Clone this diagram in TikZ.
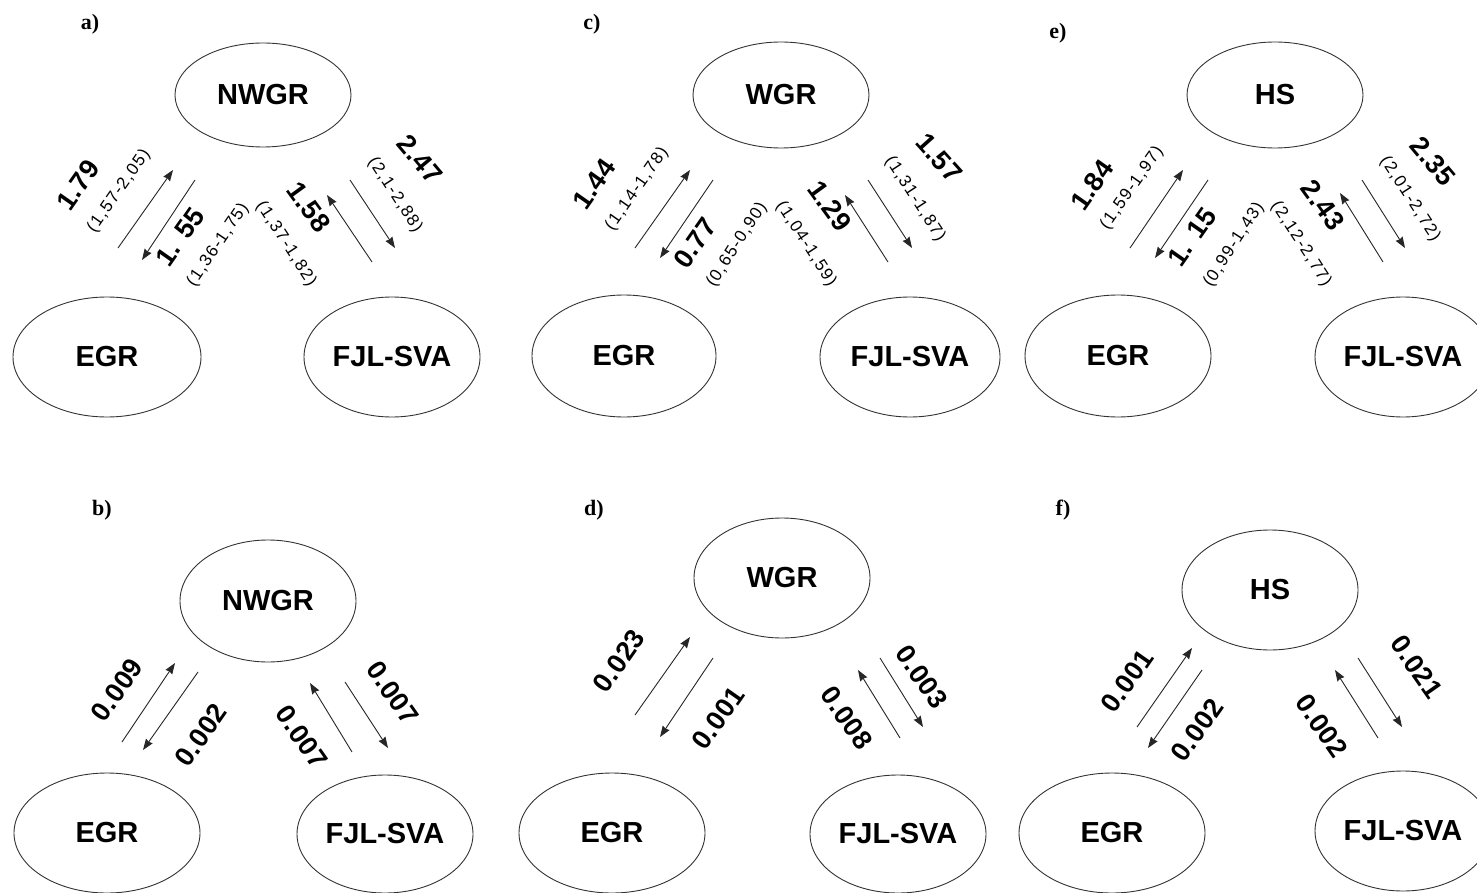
\documentclass[tikz,border=0pt]{standalone}
\usepackage{fontspec}
\usetikzlibrary{shapes.geometric,arrows.meta}
\newfontfamily\labf{Liberation Sans}
\newfontfamily\numf[LetterSpace=2]{Liberation Sans}
\newfontfamily\cif[LetterSpace=8]{Liberation Sans}
\newfontfamily\pnlf{Liberation Serif}
\tikzset{
  ell/.style={ellipse, draw=black!80, line width=0.9pt, inner sep=0pt,
    font=\labf\bfseries\fontsize{29}{32}\selectfont},
  num/.style={inner sep=0pt, font=\numf\bfseries\fontsize{27}{29}\selectfont},
  ci/.style={inner sep=0pt, font=\cif\fontsize{17}{19}\selectfont},
  plab/.style={inner sep=0pt, font=\pnlf\bfseries\fontsize{22}{24}\selectfont},
  arr/.style={line width=0.9pt, draw=black!85, -{Stealth[length=11pt,width=8pt,inset=1pt]}}
}
\begin{document}
\begin{tikzpicture}[x=1pt,y=-1pt]
\useasboundingbox (0,0) rectangle (1477,893);
\fill[white] (0,0) rectangle (1477,893);

% ---------------- panel a ----------------
\node[plab] (pa) at (90,24) {a)};
\node[ell, minimum width=176, minimum height=104] (NWGRa) at (263,95) {NWGR};
\node[ell, minimum width=188, minimum height=120] (EGRa) at (107,357) {EGR};
\node[ell, minimum width=176, minimum height=120] (FJLa) at (392,357) {FJL-SVA};
\coordinate (a1s) at (118,248); \coordinate (a1e) at (173,170);
\coordinate (a2s) at (195,180); \coordinate (a2e) at (142,260);
\coordinate (a3s) at (372,262); \coordinate (a3e) at (327,195);
\coordinate (a4s) at (350,180); \coordinate (a4e) at (395,248);
\draw[arr] (a1s) -- (a1e);
\draw[arr] (a2s) -- (a2e);
\draw[arr] (a3s) -- (a3e);
\draw[arr] (a4s) -- (a4e);
\node[num, rotate=55] (la1) at (78,185) {1.79};
\node[ci, rotate=55] (ca1) at (119,191) {(1,57-2,05)};
\node[num, rotate=55] (la2) at (180,237) {1. 55};
\node[ci, rotate=56] (ca2) at (218,245) {(1,36-1,75)};
\node[num, rotate=-54] (la3) at (309,207) {1.58};
\node[ci, rotate=-57] (ca3) at (286,244) {(1,37-1,82)};
\node[num, rotate=-50] (la4) at (420,159) {2.47};
\node[ci, rotate=-57] (ca4) at (395,195) {(2,1-2,88)};

% ---------------- panel c ----------------
\node[plab] (pc) at (592,24) {c)};
\node[ell, minimum width=176, minimum height=106] (WGRc) at (781,95) {WGR};
\node[ell, minimum width=184, minimum height=122] (EGRc) at (624,356) {EGR};
\node[ell, minimum width=180, minimum height=120] (FJLc) at (910,357) {FJL-SVA};
\coordinate (c1s) at (635,248); \coordinate (c1e) at (690,170);
\coordinate (c2s) at (713,180); \coordinate (c2e) at (660,258);
\coordinate (c3s) at (888,262); \coordinate (c3e) at (845,195);
\coordinate (c4s) at (868,180); \coordinate (c4e) at (912,248);
\draw[arr] (c1s) -- (c1e);
\draw[arr] (c2s) -- (c2e);
\draw[arr] (c3s) -- (c3e);
\draw[arr] (c4s) -- (c4e);
\node[num, rotate=55] (lc1) at (594,184) {1.44};
\node[ci, rotate=55] (cc1) at (637,189) {(1,14-1,78)};
\node[num, rotate=55] (lc2) at (695,243) {0.77};
\node[ci, rotate=57] (cc2) at (737,245) {(0,65-0,90)};
\node[num, rotate=-54] (lc3) at (830,206) {1.29};
\node[ci, rotate=-57] (cc3) at (806,244) {(1,04-1,59)};
\node[num, rotate=-48] (lc4) at (939,158) {1.57};
\node[ci, rotate=-57] (cc4) at (915,199) {(1,31-1,87)};

% ---------------- panel e ----------------
\node[plab] (pe) at (1058,33) {e)};
\node[ell, minimum width=176, minimum height=106] (HSe) at (1275,95) {HS};
\node[ell, minimum width=186, minimum height=122] (EGRe) at (1118,356) {EGR};
\node[ell, minimum width=176, minimum height=120] (FJLe) at (1403,357) {FJL-SVA};
\coordinate (e1s) at (1130,248); \coordinate (e1e) at (1183,170);
\coordinate (e2s) at (1208,180); \coordinate (e2e) at (1155,258);
\coordinate (e3s) at (1383,262); \coordinate (e3e) at (1340,193);
\coordinate (e4s) at (1362,180); \coordinate (e4e) at (1405,248);
\draw[arr] (e1s) -- (e1e);
\draw[arr] (e2s) -- (e2e);
\draw[arr] (e3s) -- (e3e);
\draw[arr] (e4s) -- (e4e);
\node[num, rotate=55] (le1) at (1092,185) {1.84};
\node[ci, rotate=55] (ce1) at (1132,188) {(1,59-1,97)};
\node[num, rotate=55] (le2) at (1192,237) {1. 15};
\node[ci, rotate=57] (ce2) at (1234,245) {(0,99-1,43)};
\node[num, rotate=-54] (le3) at (1323,205) {2.43};
\node[ci, rotate=-57] (ce3) at (1301,244) {(2,12-2,77)};
\node[num, rotate=-50] (le4) at (1433,161) {2.35};
\node[ci, rotate=-57] (ce4) at (1410,199) {(2,01-2,72)};

% ---------------- panel b ----------------
\node[plab] (pb) at (102,510) {b)};
\node[ell, minimum width=176, minimum height=122] (NWGRb) at (268,601) {NWGR};
\node[ell, minimum width=186, minimum height=120] (EGRb) at (107,833) {EGR};
\node[ell, minimum width=176, minimum height=118] (FJLb) at (385,834) {FJL-SVA};
\coordinate (b1s) at (122,742); \coordinate (b1e) at (175,663);
\coordinate (b2s) at (198,672); \coordinate (b2e) at (143,750);
\coordinate (b3s) at (352,752); \coordinate (b3e) at (310,683);
\coordinate (b4s) at (345,682); \coordinate (b4e) at (388,748);
\draw[arr] (b1s) -- (b1e);
\draw[arr] (b2s) -- (b2e);
\draw[arr] (b3s) -- (b3e);
\draw[arr] (b4s) -- (b4e);
\node[num, rotate=55] (lb1) at (117,690) {0.009};
\node[num, rotate=55] (lb2) at (201,735) {0.002};
\node[num, rotate=-55] (lb3) at (302,737) {0.007};
\node[num, rotate=-55] (lb4) at (393,693) {0.007};

% ---------------- panel d ----------------
\node[plab] (pd) at (594,510) {d)};
\node[ell, minimum width=176, minimum height=120] (WGRd) at (782,578) {WGR};
\node[ell, minimum width=186, minimum height=120] (EGRd) at (612,833) {EGR};
\node[ell, minimum width=176, minimum height=118] (FJLd) at (898,834) {FJL-SVA};
\coordinate (d1s) at (635,715); \coordinate (d1e) at (690,637);
\coordinate (d2s) at (713,658); \coordinate (d2e) at (660,737);
\coordinate (d3s) at (900,738); \coordinate (d3e) at (858,670);
\coordinate (d4s) at (880,658); \coordinate (d4e) at (923,727);
\draw[arr] (d1s) -- (d1e);
\draw[arr] (d2s) -- (d2e);
\draw[arr] (d3s) -- (d3e);
\draw[arr] (d4s) -- (d4e);
\node[num, rotate=55] (ld1) at (619,661) {0.023};
\node[num, rotate=55] (ld2) at (718,718) {0.001};
\node[num, rotate=-55] (ld3) at (847,718) {0.008};
\node[num, rotate=-55] (ld4) at (922,677) {0.003};

% ---------------- panel f ----------------
\node[plab] (pf) at (1063,510) {f)};
\node[ell, minimum width=176, minimum height=120] (HSf) at (1270,590) {HS};
\node[ell, minimum width=186, minimum height=120] (EGRf) at (1112,833) {EGR};
\node[ell, minimum width=176, minimum height=120] (FJLf) at (1403,831) {FJL-SVA};
\coordinate (f1s) at (1137,727); \coordinate (f1e) at (1192,648);
\coordinate (f2s) at (1202,670); \coordinate (f2e) at (1148,748);
\coordinate (f3s) at (1378,738); \coordinate (f3e) at (1335,670);
\coordinate (f4s) at (1358,658); \coordinate (f4e) at (1402,727);
\draw[arr] (f1s) -- (f1e);
\draw[arr] (f2s) -- (f2e);
\draw[arr] (f3s) -- (f3e);
\draw[arr] (f4s) -- (f4e);
\node[num, rotate=55] (lf1) at (1127,681) {0.001};
\node[num, rotate=55] (lf2) at (1197,730) {0.002};
\node[num, rotate=-55] (lf3) at (1322,726) {0.002};
\node[num, rotate=-55] (lf4) at (1417,667) {0.021};
\end{tikzpicture}
\end{document}
